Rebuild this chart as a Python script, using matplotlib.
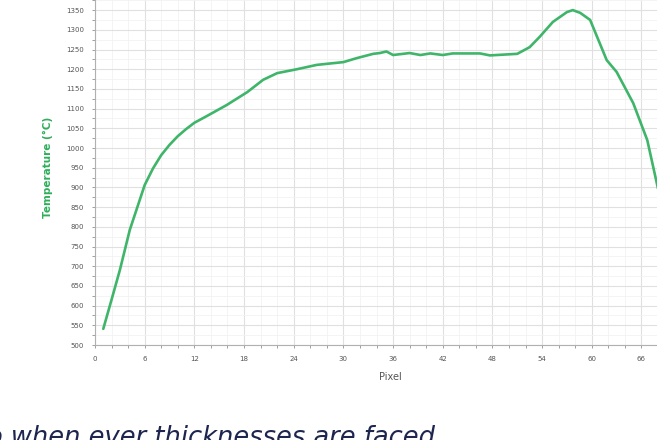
import numpy as np
import matplotlib.pyplot as plt
from matplotlib.ticker import MultipleLocator

# values
pixel = [1.0, 2.0, 3.0, 4.2, 6.0, 7.0, 8.0, 9.0, 10.0, 11.0, 12.0, 13.5,
         15.9, 18.4, 20.3, 22.0, 24.4, 26.8, 30.0, 31.6, 33.6, 34.4, 35.2,
         36.0, 38.0, 39.3, 40.5, 42.0, 43.2, 46.5, 47.7, 51.0, 52.5, 53.7,
         55.3, 57.0, 57.7, 58.6, 59.8, 61.8, 63.0, 65.0, 66.7, 67.9, 69.4]
temp = [541, 615, 690, 792, 906, 948, 982, 1008, 1030, 1048, 1064, 1081,
        1109, 1142, 1173, 1190, 1200, 1211, 1218, 1228, 1239, 1241, 1245,
        1236, 1241, 1236, 1240, 1236, 1240, 1240, 1235, 1239, 1256, 1282,
        1320, 1345, 1350, 1343, 1325, 1223, 1193, 1114, 1020, 906, 766]
xticks = [0, 6, 12, 18, 24, 30, 36, 42, 48, 54, 60, 66]
yticks = list(range(500, 1401, 50))

fig = plt.figure(figsize=(6.57, 4.40), dpi=100)
# axes runs a bit past the right and top edges of the cropped screenshot
ax = fig.add_axes([95/657, 1-345/440, (685-95)/657, 356/440])

ax.plot(pixel, temp, color='#3fb56a', lw=1.9, solid_capstyle='round',
        solid_joinstyle='round')

ax.set_xticks(xticks)
ax.set_yticks(yticks)
ax.set_xlim(0, (685-95)/8.28)
ax.set_ylim(500, 500 + 356/0.394)
ax.xaxis.set_minor_locator(MultipleLocator(2))
ax.yaxis.set_minor_locator(MultipleLocator(25))
ax.grid(which='major', color='#e0e0e0', lw=0.8)
ax.grid(which='minor', color='#f2f2f2', lw=0.6)
ax.set_axisbelow(True)

for s in ['top', 'right']:
    ax.spines[s].set_visible(False)
for s in ['left', 'bottom']:
    ax.spines[s].set_color('#b0b0b0')
    ax.spines[s].set_linewidth(0.8)
ax.tick_params(which='both', colors='#a0a0a0', labelcolor='#555555',
               labelsize=5, length=2, width=0.7, pad=6)

ax.set_xlabel('Pixel', fontsize=7, color='#555555', labelpad=7)
ax.set_ylabel('Temperature (°C)', fontsize=7.5, color='#2fae5a',
              fontweight='bold', labelpad=9)

# caption of the page below the screenshot, cut by the bottom edge
fig.text(-13/657, -5/440, 'o when ever thicknesses are faced', fontsize=18.5,
         style='italic', color='#1e2650', ha='left', va='baseline')

fig.savefig('out.png', dpi=100)
